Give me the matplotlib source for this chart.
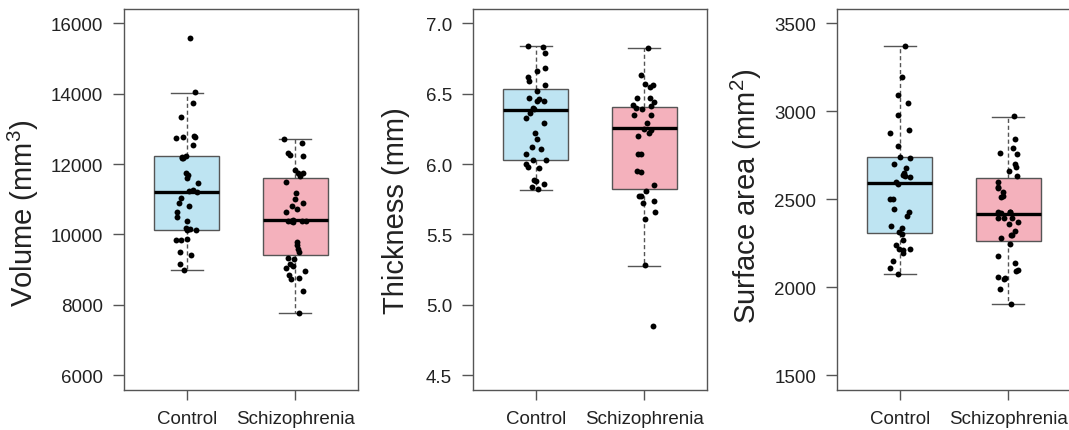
import matplotlib
matplotlib.use('Agg')
import matplotlib.pyplot as plt
import numpy as np

plt.rcParams['font.family'] = ['Liberation Sans', 'DejaVu Sans']
plt.rcParams['mathtext.default'] = 'regular'

groups = ['Control', 'Schizophrenia']

# points
vol_ctrl = [15570, 14030, 13720, 13330, 12780, 12760, 12730, 12790, 12540, 12240,
            12180, 12200, 12170, 11740, 11600, 11700, 11460, 11260, 11240, 11200,
            11040, 10900, 10800, 10650, 10510, 10370, 10180, 10130, 10150, 10130,
            9870, 9840, 9850, 9490, 9430, 9150, 8990]
vol_scz = [12710, 12610, 12310, 12260, 12230, 11840, 11740, 11750, 11650, 11490,
           11180, 11010, 10890, 10800, 10720, 10650, 10400, 10370, 10390, 10380,
           10360, 10390, 9780, 9710, 9590, 9490, 9330, 9310, 9170, 9100, 9050,
           8960, 8860, 8770, 8740, 8390, 7780]

thk_ctrl = [6.84, 6.83, 6.79, 6.68, 6.66, 6.62, 6.59, 6.56, 6.52, 6.47, 6.45, 6.46,
            6.45, 6.40, 6.39, 6.36, 6.33, 6.29, 6.22, 6.18, 6.12, 6.11, 6.07, 6.03,
            6.00, 5.98, 6.03, 5.97, 5.89, 5.88, 5.86, 5.84, 5.82]
thk_scz = [6.82, 6.63, 6.57, 6.55, 6.56, 6.47, 6.44, 6.42, 6.47, 6.41, 6.40, 6.39,
           6.35, 6.35, 6.29, 6.24, 6.25, 6.22, 6.20, 6.07, 6.07, 5.95, 5.94, 5.85,
           5.81, 5.77, 5.77, 5.74, 5.72, 5.66, 5.61, 5.28, 4.85]

sa_ctrl = [3370, 3195, 3090, 3045, 2980, 2895, 2875, 2805, 2740, 2735, 2700, 2680,
           2650, 2630, 2640, 2625, 2600, 2585, 2500, 2500, 2445, 2430, 2405, 2350,
           2335, 2315, 2305, 2270, 2240, 2220, 2220, 2210, 2195, 2150, 2110, 2075]
sa_scz = [2970, 2840, 2790, 2765, 2755, 2700, 2685, 2660, 2630, 2600, 2565, 2570,
          2540, 2520, 2515, 2425, 2430, 2425, 2420, 2395, 2395, 2395, 2370, 2360,
          2320, 2295, 2295, 2280, 2245, 2180, 2140, 2100, 2095, 2060, 2055, 2050,
          1990, 1905]

# box stats (whislo, q1, med, q3, whishi) per group
vol_box = [[9000, 10116, 11212, 12232, 14026], [7776, 9408, 10400, 11609, 12705]]
thk_box = [[5.817, 6.028, 6.382, 6.533, 6.838], [5.277, 5.824, 6.258, 6.406, 6.82]]
sa_box = [[2075, 2306, 2593, 2741, 3370], [1907, 2262, 2418, 2619, 2969]]

vol_ticks = [6000, 8000, 10000, 12000, 14000, 16000]
thk_ticks = [4.5, 5.0, 5.5, 6.0, 6.5, 7.0]
sa_ticks = [1500, 2000, 2500, 3000, 3500]

# label, points, boxes, ticks, tick labels, axes left px, ylabel centre (x px, y px)
panels = [
    ('Volume (mm$^{3}$)', [vol_ctrl, vol_scz], vol_box, vol_ticks, ['%d' % t for t in vol_ticks], 124, 23, 213),
    ('Thickness (mm)', [thk_ctrl, thk_scz], thk_box, thk_ticks, ['%.1f' % t for t in thk_ticks], 473, 396, 211),
    ('Surface area (mm$^{2}$)', [sa_ctrl, sa_scz], sa_box, sa_ticks, ['%d' % t for t in sa_ticks], 837, 746, 196),
]

fill_cols = ['#bee4f2', '#f4b1bc']
edge = '#555555'

W, H = 1069, 431
top, bot = 10, 390.5
fig = plt.figure(figsize=(W / 100, H / 100), dpi=100)
rng = np.random.default_rng(7)

for label, pts, box, ticks, ticklabels, left, labx, laby in panels:
    ax = fig.add_axes([left / W, (H - bot) / H, 234 / W, (bot - top) / H])
    stats = []
    for b in box:
        stats.append(dict(whislo=b[0], q1=b[1], med=b[2], q3=b[3], whishi=b[4], fliers=[]))
    bp = ax.bxp(stats, positions=[1, 2], widths=0.6, patch_artist=True, showfliers=False,
                boxprops=dict(edgecolor=edge, linewidth=1.0),
                medianprops=dict(color='black', linewidth=2.4),
                whiskerprops=dict(color=edge, linewidth=1.0, linestyle=(0, (3, 2))),
                capprops=dict(color=edge, linewidth=1.0), capwidths=0.3)
    for patch, c in zip(bp['boxes'], fill_cols):
        patch.set_facecolor(c)
    for i, vals in enumerate(pts):
        jit = rng.uniform(-0.1, 0.1, len(vals))
        ax.scatter(i + 1 + jit, vals, s=18, color='black', zorder=5, linewidths=0)

    lo, hi = ticks[0], ticks[-1]
    pad = (hi - lo) * 0.04
    ax.set_ylim(lo - pad, hi + pad)
    ax.set_xlim(0.42, 2.58)
    ax.set_yticks(ticks)
    ax.set_yticklabels(ticklabels)
    ax.set_xticks([1, 2])
    ax.set_xticklabels(groups)
    ax.tick_params(axis='y', length=8, width=1, color=edge, labelsize=13.5, pad=7, labelcolor='#222222')
    ax.tick_params(axis='x', length=7, width=1, color=edge, labelsize=13.5, pad=8, labelcolor='#222222')
    for s in ax.spines.values():
        s.set_color(edge)
        s.set_linewidth(1.0)
    ax.set_ylabel(label, fontsize=21, color='#222222', va='center')
    ax.yaxis.set_label_coords((labx - left) / 234, (bot - laby) / (bot - top))

fig.savefig('out.png', dpi=100)
